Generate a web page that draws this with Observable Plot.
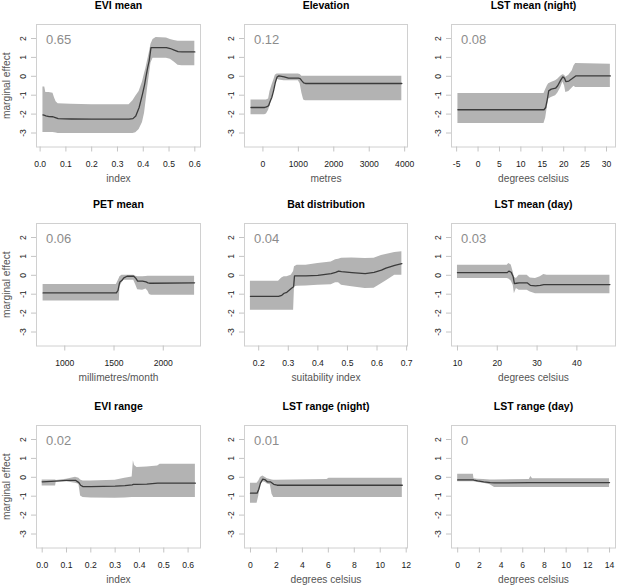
<!DOCTYPE html>
<html><head><meta charset="utf-8">
<script src="https://cdn.jsdelivr.net/npm/d3@7"></script>
<script src="https://cdn.jsdelivr.net/npm/@observablehq/plot@0.6"></script>
<style>
body{margin:0;background:#fff;}
#wrap{position:relative;width:617px;height:585px;overflow:hidden;background:#fff;}
</style></head><body><div id="wrap"></div>
<script>
// ---------- data ----------
const titles = ["EVI mean","Elevation","LST mean (night)","PET mean","Bat distribution","LST mean (day)","EVI range","LST range (night)","LST range (day)"];
const xLabels = ["index","metres","degrees celsius","millimetres/month","suitability index","degrees celsius","index","degrees celsius","degrees celsius"];
const importance = ["0.65","0.12","0.08","0.06","0.04","0.03","0.02","0.01","0"];
const yTicks = [-3,-2,-1,0,1,2];

const eviMeanX  = [0.011,0.018,0.022,0.035,0.05,0.056,0.062,0.07,0.12,0.2,0.3,0.345,0.36,0.371,0.384,0.397,0.405,0.41,0.417,0.423,0.43,0.438,0.45,0.49,0.505,0.52,0.535,0.55,0.60];
const eviMeanFit= [-2.04,-2.07,-2.09,-2.13,-2.14,-2.17,-2.2,-2.24,-2.26,-2.27,-2.27,-2.27,-2.24,-2.1,-1.65,-0.94,-0.45,-0.06,0.45,0.82,1.52,1.52,1.52,1.52,1.47,1.39,1.31,1.29,1.29];
const eviMeanLo = [-2.97,-2.97,-2.97,-2.97,-2.97,-2.98,-3.0,-3.02,-3.02,-3.02,-3.02,-3.02,-3.02,-2.98,-2.82,-2.45,-1.95,-1.4,-0.6,0.0,0.7,0.96,0.96,0.96,0.9,0.75,0.58,0.56,0.56];
const eviMeanHi = [-0.56,-0.56,-0.86,-0.86,-0.9,-1.15,-1.35,-1.45,-1.48,-1.5,-1.5,-1.5,-1.3,-1.05,-0.8,-0.3,0.15,0.4,0.85,1.2,1.7,1.95,2.05,2.02,1.95,1.9,1.86,1.85,1.85];

const elevX  = [-336,50,100,160,200,250,300,350,400,450,600,720,1000,1050,1100,1150,1200,3920];
const elevFit= [-1.65,-1.65,-1.62,-1.56,-1.35,-1.12,-0.77,-0.33,-0.04,0.02,-0.03,-0.1,-0.1,-0.12,-0.24,-0.35,-0.38,-0.38];
const elevLo = [-2.04,-2.04,-1.99,-1.8,-1.55,-1.2,-0.86,-0.45,-0.15,-0.2,-0.24,-0.24,-0.24,-0.4,-0.9,-1.26,-1.3,-1.3];
const elevHi = [-1.26,-1.26,-1.26,-1.2,-0.8,-0.5,-0.24,0.05,0.12,0.12,0.12,0.12,0.12,0.1,0.0,0.0,0.0,0.0];

const lstNightX  = [-4.7,15.4,15.8,16.2,16.5,17.1,18.1,18.6,19.3,19.8,20.2,20.5,21.2,22.0,22.4,22.8,30.9];
const lstNightFit= [-1.77,-1.77,-1.65,-1.2,-0.77,-0.68,-0.63,-0.5,-0.2,-0.03,-0.1,-0.28,-0.25,-0.12,-0.05,0.02,0.02];
const lstNightLo = [-2.5,-2.5,-2.2,-1.6,-1.2,-1.12,-1.03,-0.9,-0.6,-0.3,-0.5,-0.86,-0.8,-0.62,-0.52,-0.59,-0.59];
const lstNightHi = [-0.91,-0.91,-0.7,-0.5,-0.4,-0.33,-0.24,-0.15,0.0,0.08,0.05,-0.05,0.05,0.3,0.55,0.68,0.64];

const petX  = [780,1524,1541,1554,1560,1581,1600,1632,1700,1720,1740,1790,1825,1845,1860,1880,2318];
const petFit= [-0.93,-0.93,-0.79,-0.45,-0.35,-0.26,-0.14,-0.05,-0.05,-0.15,-0.31,-0.31,-0.35,-0.4,-0.42,-0.42,-0.4];
const petLo = [-1.36,-1.36,-1.36,-1.36,-0.61,-0.4,-0.26,-0.26,-0.26,-0.5,-0.76,-0.79,-0.72,-0.85,-1.02,-1.06,-1.06];
const petHi = [-0.49,-0.49,-0.3,-0.15,-0.08,0.0,0.0,0.0,0.0,-0.05,-0.08,-0.08,-0.06,-0.05,-0.05,-0.05,-0.05];

const batX  = [0.172,0.267,0.278,0.286,0.295,0.31,0.318,0.321,0.33,0.36,0.40,0.445,0.46,0.47,0.48,0.515,0.56,0.59,0.615,0.63,0.66,0.684];
const batFit= [-1.11,-1.11,-1.06,-0.95,-0.9,-0.7,-0.61,-0.03,-0.03,-0.03,0.0,0.09,0.15,0.22,0.19,0.14,0.09,0.16,0.27,0.38,0.53,0.62];
const batLo = [-1.85,-1.85,-1.85,-1.85,-1.85,-1.85,-1.85,-0.61,-0.58,-0.56,-0.53,-0.5,-0.39,-0.4,-0.53,-0.61,-0.7,-0.68,-0.45,-0.3,0.0,0.0];
const batHi = [-0.31,-0.31,-0.14,-0.08,-0.08,0.0,0.2,0.45,0.53,0.53,0.62,0.71,0.82,0.85,0.9,0.92,0.89,0.9,1.05,1.1,1.2,1.24];

const lstDayX  = [10,22.5,22.9,23.5,24.0,24.3,24.8,25.5,27.5,28.3,29.6,30.8,31.7,32.5,48.3];
const lstDayFit= [0.14,0.14,0.22,0.16,-0.08,-0.44,-0.42,-0.4,-0.4,-0.53,-0.56,-0.53,-0.49,-0.49,-0.49];
const lstDayLo = [-0.17,-0.17,-0.2,-0.3,-0.53,-0.97,-0.7,-0.79,-0.79,-0.88,-0.97,-0.97,-0.97,-0.97,-0.97];
const lstDayHi = [0.53,0.53,0.62,0.55,0.18,-0.1,-0.17,0.0,0.0,-0.14,-0.17,-0.08,0.04,0.0,0.0];

const eviRangeX  = [0.0,0.055,0.058,0.10,0.137,0.151,0.158,0.168,0.2,0.3,0.34,0.37,0.375,0.38,0.39,0.43,0.475,0.485,0.63];
const eviRangeFit= [-0.24,-0.2,-0.2,-0.16,-0.16,-0.28,-0.42,-0.49,-0.49,-0.47,-0.44,-0.4,-0.38,-0.37,-0.37,-0.36,-0.31,-0.31,-0.31];
const eviRangeLo = [-0.46,-0.46,-0.24,-0.24,-0.31,-0.37,-0.99,-1.07,-1.1,-1.11,-1.1,-1.07,-1.07,-1.07,-1.07,-1.07,-1.07,-1.07,-1.07];
const eviRangeHi = [-0.14,-0.14,-0.17,-0.1,0.0,-0.05,-0.14,-0.19,-0.19,-0.15,-0.05,0.02,0.87,0.62,0.52,0.55,0.6,0.69,0.69];

const lstRngNightX  = [0,0.51,0.64,0.77,0.95,1.15,1.3,1.53,1.66,1.79,2.05,5.9,6.05,11.7];
const lstRngNightFit= [-0.84,-0.84,-0.63,-0.31,-0.1,-0.14,-0.24,-0.24,-0.3,-0.37,-0.42,-0.42,-0.42,-0.42];
const lstRngNightLo = [-1.37,-1.37,-0.99,-0.4,-0.24,-0.28,-0.35,-0.4,-0.9,-1.07,-1.07,-1.07,-1.07,-1.07];
const lstRngNightHi = [-0.31,-0.31,-0.2,-0.01,0.07,-0.01,-0.08,-0.12,-0.14,-0.15,-0.16,-0.12,-0.05,-0.05];

const lstRngDayX  = [0,1.45,1.5,1.84,2.4,3.0,3.4,6.6,6.75,6.9,14];
const lstRngDayFit= [-0.14,-0.14,-0.15,-0.19,-0.24,-0.28,-0.3,-0.28,-0.28,-0.28,-0.28];
const lstRngDayLo = [-0.24,-0.24,-0.24,-0.28,-0.31,-0.4,-0.54,-0.54,-0.54,-0.54,-0.54];
const lstRngDayHi = [0.16,0.16,-0.08,-0.1,-0.12,-0.14,-0.14,-0.12,0.04,-0.08,-0.08];

const xTicks = [
  [0,0.1,0.2,0.3,0.4,0.5,0.6],
  [0,1000,2000,3000,4000],
  [-5,0,5,10,15,20,25,30],
  [1000,1500,2000],
  [0.2,0.3,0.4,0.5,0.6,0.7],
  [10,20,30,40],
  [0,0.1,0.2,0.3,0.4,0.5,0.6],
  [0,2,4,6,8,10,12],
  [0,2,4,6,8,10,12,14]
];
const xDomains = [[-0.014,0.622],[-520,4080],[-6.2,32.1],[713,2378],[0.152,0.703],[8.5,49.7],[-0.0234,0.651],[-0.46,12.1],[-0.57,14.55]];

// ---------- build ----------
const series = [
  [eviMeanX,eviMeanFit,eviMeanLo,eviMeanHi],
  [elevX,elevFit,elevLo,elevHi],
  [lstNightX,lstNightFit,lstNightLo,lstNightHi],
  [petX,petFit,petLo,petHi],
  [batX,batFit,batLo,batHi],
  [lstDayX,lstDayFit,lstDayLo,lstDayHi],
  [eviRangeX,eviRangeFit,eviRangeLo,eviRangeHi],
  [lstRngNightX,lstRngNightFit,lstRngNightLo,lstRngNightHi],
  [lstRngDayX,lstRngDayFit,lstRngDayLo,lstRngDayHi]
];
const decimalFmt = [true,false,false,false,true,false,true,false,false];

const colLeft = [36,244,451], colRight = [200,407,615];
const rowTop = [23.7,223.3,424.7];
const boxH = 122.5;
const mL = 36, mR = 2, mT = 24, mB = 42;
const FONT = "'Liberation Sans', Arial, Helvetica, sans-serif";
const wrap = document.getElementById("wrap");

series.forEach(([xs, fit, lo, hi], i) => {
  const c = i % 3, r = Math.floor(i / 3);
  const w = colRight[c] - colLeft[c];
  const data = xs.map((x, j) => ({x, fit: fit[j], lo: lo[j], hi: hi[j]}));
  const fmt = decimalFmt[i] ? d3.format(".1f") : (d => String(d));
  const marks = [
    Plot.areaY(data, {x: "x", y1: "lo", y2: "hi", fill: "#b3b3b3"}),
    Plot.line(data, {x: "x", y: "fit", stroke: "#3b3b3b", strokeWidth: 1.3}),
    Plot.frame({stroke: "#d0d0d0"}),
    Plot.axisX({ticks: xTicks[i], tickSize: 5, tickFormat: () => "", stroke: "#c4c4c4", label: null}),
    Plot.axisX({ticks: xTicks[i], tickSize: 0, tickPadding: 14, tickFormat: fmt, fill: "#1a1a1a", fontSize: 8.6, label: null}),
    Plot.axisY({ticks: yTicks, tickSize: 5, tickFormat: () => "", stroke: "#c4c4c4", label: null}),
    Plot.text(yTicks, {y: d => d, text: d => String(d), frameAnchor: "left", dx: -13.7, rotate: -90, textAnchor: "middle", lineAnchor: "middle", fontSize: 8.6, fill: "#1a1a1a"}),
    Plot.text([titles[i]], {frameAnchor: "top", dy: -18.5, lineAnchor: "middle", fontWeight: "bold", fontSize: 10.5, fill: "#000"}),
    Plot.text([importance[i]], {frameAnchor: "top-left", dx: 9.5, dy: 19.5, textAnchor: "start", lineAnchor: "bottom", fontSize: 13, fill: "#8c8c8c"}),
    Plot.text([xLabels[i]], {frameAnchor: "bottom", dy: 34.5, lineAnchor: "bottom", fontSize: 10.2, fill: "#555"})
  ];
  if (c === 0) {
    marks.push(Plot.text(["marginal effect"], {frameAnchor: "left", dx: -30, rotate: -90, textAnchor: "middle", lineAnchor: "middle", fontSize: 10.2, fill: "#555"}));
  }
  const chart = Plot.plot({
    width: w + mL + mR,
    height: boxH + mT + mB,
    marginLeft: mL, marginRight: mR, marginTop: mT, marginBottom: mB,
    style: {fontFamily: FONT, background: "transparent", overflow: "visible"},
    x: {domain: xDomains[i], label: null},
    y: {domain: [-3.74, 2.74], label: null},
    marks
  });
  chart.style.position = "absolute";
  chart.style.left = (colLeft[c] - mL) + "px";
  chart.style.top = (rowTop[r] - mT) + "px";
  wrap.append(chart);
});
</script></body></html>
